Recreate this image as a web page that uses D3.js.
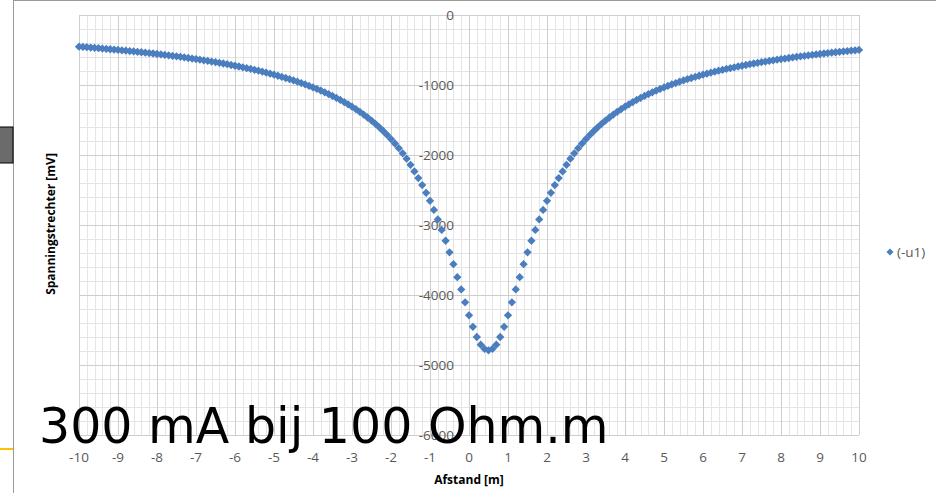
<!DOCTYPE html>
<html lang="nl">

<head>
    <meta charset="UTF-8">
    <title>Spanningstrechter</title>
    <style>
        body {
            margin: 0;
            background: #fff;
        }

        svg {
            display: block;
        }

        .tick-lbl {
            font-family: "Open Sans", sans-serif;
            font-size: 13.5px;
            fill: #595959;
        }

        .axis-title {
            font-family: "Open Sans", sans-serif;
            font-size: 12px;
            font-weight: bold;
            fill: #000;
        }
    </style>
</head>

<body>
    <script src="https://d3js.org/d3.v7.min.js"></script>
    <script>

        // afstand in m, stap 0.1
        let afstand = d3.range(-100, 101).map(i => i / 10);

        let u1 = [
            -452, -456, -460, -465, -469, -474, -479, -484, -489, -494,
            -499, -504, -509, -515, -520, -526, -532, -538, -544, -550,
            -557, -563, -570, -577, -584, -591, -598, -606, -614, -622,
            -630, -638, -647, -656, -665, -674, -683, -693, -703, -714,
            -725, -736, -747, -759, -771, -783, -796, -810, -824, -838,
            -853, -868, -884, -900, -917, -935, -953, -972, -992, -1013,
            -1034, -1056, -1080, -1104, -1130, -1156, -1184, -1213, -1244, -1276,
            -1310, -1346, -1383, -1423, -1464, -1508, -1555, -1605, -1657, -1713,
            -1772, -1836, -1903, -1976, -2053, -2140, -2235, -2330, -2430, -2540,
            -2655, -2785, -2920, -3070, -3225, -3390, -3560, -3745, -3920, -4105,
            -4290, -4455, -4600, -4710, -4770, -4790, -4770, -4710, -4600, -4455,
            -4290, -4105, -3920, -3745, -3560, -3390, -3225, -3070, -2920, -2785,
            -2655, -2540, -2430, -2330, -2235, -2140, -2053, -1976, -1903, -1836,
            -1772, -1713, -1657, -1605, -1555, -1508, -1464, -1423, -1383, -1346,
            -1310, -1276, -1244, -1213, -1184, -1156, -1130, -1104, -1080, -1056,
            -1034, -1013, -992, -972, -953, -935, -917, -900, -884, -868,
            -853, -838, -824, -810, -796, -783, -771, -759, -747, -736,
            -725, -714, -703, -693, -683, -674, -665, -656, -647, -638,
            -630, -622, -614, -606, -598, -591, -584, -577, -570, -563,
            -557, -550, -544, -538, -532, -526, -520, -515, -509, -504,
            -499
        ];

        let xTicks = [-10, -9, -8, -7, -6, -5, -4, -3, -2, -1, 0, 1, 2, 3, 4, 5, 6, 7, 8, 9, 10];
        let yTicks = [0, -1000, -2000, -3000, -4000, -5000, -6000];

        let seriesName = '(-u1)';
        let xTitle = 'Afstand [m]';
        let yTitle = 'Spanningstrechter [mV]';
        let overlay = '300 mA bij 100 Ohm.m';

        let blue = '#4a7ebf';

        // 1. svg
        let W = 936, H = 493;
        let p = { l: 79, r: 859, t: 15, b: 435 };

        let s = d3.select('body').append('svg')
            .attr('width', W)
            .attr('height', H);

        let x = d3.scaleLinear().domain([-10, 10]).range([p.l, p.r]);
        let y = d3.scaleLinear().domain([-6000, 0]).range([p.b, p.t]);

        // 2. grid
        let grid = s.append('g');
        grid.selectAll('.vmin')
            .data(x.ticks(100))
            .enter().append('line')
            .attr('x1', d => Math.round(x(d)) + 0.5)
            .attr('x2', d => Math.round(x(d)) + 0.5)
            .attr('y1', p.t).attr('y2', p.b)
            .attr('stroke', '#e4e4e4');
        grid.selectAll('.hmin')
            .data(y.ticks(30))
            .enter().append('line')
            .attr('y1', d => Math.round(y(d)) + 0.5)
            .attr('y2', d => Math.round(y(d)) + 0.5)
            .attr('x1', p.l).attr('x2', p.r)
            .attr('stroke', '#e4e4e4');
        grid.selectAll('.vmaj')
            .data(xTicks)
            .enter().append('line')
            .attr('x1', d => Math.round(x(d)) + 0.5)
            .attr('x2', d => Math.round(x(d)) + 0.5)
            .attr('y1', p.t).attr('y2', p.b)
            .attr('stroke', '#cecece');
        grid.selectAll('.hmaj')
            .data(yTicks)
            .enter().append('line')
            .attr('y1', d => Math.round(y(d)) + 0.5)
            .attr('y2', d => Math.round(y(d)) + 0.5)
            .attr('x1', p.l).attr('x2', p.r)
            .attr('stroke', '#cecece');

        // 3. tick labels (y-as kruist bij x = 0)
        s.selectAll('.ylbl')
            .data(yTicks)
            .enter().append('text')
            .attr('class', 'tick-lbl')
            .attr('text-anchor', 'end')
            .attr('x', x(0) - 15)
            .attr('y', d => y(d))
            .attr('dy', '.35em')
            .text(d => d);

        s.selectAll('.xlbl')
            .data(xTicks)
            .enter().append('text')
            .attr('class', 'tick-lbl')
            .attr('text-anchor', 'middle')
            .attr('x', d => x(d))
            .attr('y', 457)
            .attr('dy', '.35em')
            .text(d => d);

        // 4. punten
        let pts = afstand.map((a, i) => ({ a: a, u: u1[i] }));
        let diamond = d3.symbol().type(d3.symbolDiamond2).size(44);

        s.append('g').selectAll('path')
            .data(pts)
            .enter().append('path')
            .attr('d', diamond)
            .attr('transform', d => `translate(${x(d.a)},${y(d.u)})`)
            .attr('fill', blue);

        // 5. legenda
        s.append('path')
            .attr('d', d3.symbol().type(d3.symbolDiamond2).size(32))
            .attr('transform', 'translate(890,252)')
            .attr('fill', blue);
        s.append('text')
            .attr('class', 'tick-lbl')
            .attr('x', 897)
            .attr('y', 252)
            .attr('dy', '.35em')
            .text(seriesName);

        // 6. as-titels
        s.append('text')
            .attr('class', 'axis-title')
            .attr('text-anchor', 'middle')
            .attr('x', x(0))
            .attr('y', 480)
            .attr('dy', '.35em')
            .text(xTitle);
        s.append('text')
            .attr('class', 'axis-title')
            .attr('text-anchor', 'middle')
            .attr('transform', 'translate(51,224) rotate(-90)')
            .attr('dy', '.35em')
            .text(yTitle);

        // 7. rand van de grafiek en restjes van de dia
        s.append('line')
            .attr('x1', 13.5).attr('x2', 13.5)
            .attr('y1', 0).attr('y2', H)
            .attr('stroke', '#9a9a9a');
        s.append('line')
            .attr('x1', 13).attr('x2', W)
            .attr('y1', 0.5).attr('y2', 0.5)
            .attr('stroke', '#9a9a9a');
        s.append('rect')
            .attr('x', -1).attr('y', 127)
            .attr('width', 14).attr('height', 36)
            .attr('fill', '#6b6b6b')
            .attr('stroke', '#000');
        s.append('line')
            .attr('x1', 0).attr('x2', 13)
            .attr('y1', 449).attr('y2', 449)
            .attr('stroke', '#ffc000')
            .attr('stroke-width', 2);

        // 8. tekst over de grafiek
        s.append('text')
            .attr('x', 39)
            .attr('y', 443)
            .style('font-family', '"DejaVu Sans", sans-serif')
            .style('font-size', '49px')
            .attr('fill', '#000')
            .text(overlay);
    </script>
</body>

</html>
